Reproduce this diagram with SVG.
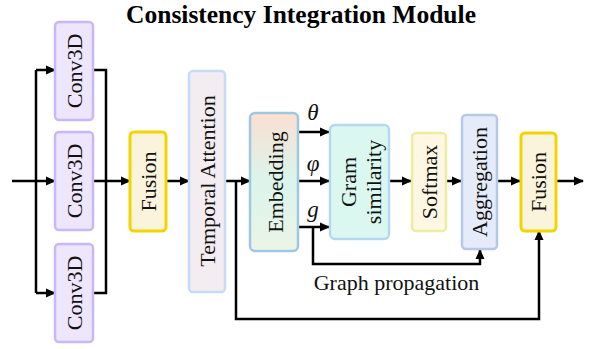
<svg xmlns="http://www.w3.org/2000/svg" width="596" height="349" viewBox="0 0 596 349">
  <style>
    .lbl { font-family: "Liberation Serif", "Times New Roman", serif; font-size: 22px; fill: #111; text-anchor: middle; dominant-baseline: central; }
    .math { font-family: "Liberation Serif", "Times New Roman", serif; font-size: 23px; font-style: italic; fill: #111; text-anchor: middle; }
    .wire { fill: none; stroke: #000; stroke-width: 2.5; stroke-linejoin: miter; }
    .arr { marker-end: url(#ah); }
    .conv { fill: #ede6fc; stroke: #c8b8f6; stroke-width: 2.5; }
    .fusion { fill: #faf4dc; stroke: #f2d500; stroke-width: 3; }
  </style>
  <defs>
    <marker id="ah" markerUnits="userSpaceOnUse" markerWidth="10" markerHeight="10" viewBox="0 0 10 10" refX="9" refY="5" orient="auto">
      <path d="M0,0.5 L10,5 L0,9.5 z" fill="#000"/>
    </marker>
    <linearGradient id="embG" x1="0" y1="0" x2="0" y2="1">
      <stop offset="0" stop-color="#fbdfd2"/>
      <stop offset="0.5" stop-color="#daf5ec"/>
      <stop offset="1" stop-color="#ecf4e6"/>
    </linearGradient>
  </defs>

  <text x="301" y="23" font-family="Liberation Serif, Times New Roman, serif" font-size="25.5" font-weight="bold" text-anchor="middle" fill="#000">Consistency Integration Module</text>

  <g id="connectors">
    <path class="wire" d="M12,181 L36,181"/>
    <path class="wire" d="M36,70 L36,293"/>
    <path class="wire arr" d="M36,70 L55,70"/>
    <path class="wire arr" d="M36,181 L55,181"/>
    <path class="wire arr" d="M36,293 L55,293"/>
    <path class="wire" d="M93,70 L106,70 L106,293 L93,293"/>
    <path class="wire arr" d="M93,181 L130,181"/>
    <path class="wire arr" d="M166,181 L189,181"/>
    <path class="wire arr" d="M225,181 L250,181"/>
    <path class="wire arr" d="M236,181 L236,319 L539,319 L539,231"/>
    <path class="wire arr" d="M298,132 L329,132"/>
    <path class="wire arr" d="M298,181 L329,181"/>
    <path class="wire arr" d="M298,227 L329,227"/>
    <path class="wire arr" d="M313,227 L313,264 L480,264 L480,250"/>
    <path class="wire arr" d="M389,181 L411,181"/>
    <path class="wire arr" d="M447,181 L461,181"/>
    <path class="wire arr" d="M497,181 L520,181"/>
    <path class="wire arr" d="M556,181 L583,181"/>
  </g>

  <g id="conv3d-top">
    <rect class="conv" x="55" y="22" width="38" height="98" rx="4"/>
    <text class="lbl" transform="translate(74,71) rotate(-90)">Conv3D</text>
  </g>
  <g id="conv3d-mid">
    <rect class="conv" x="55" y="132" width="38" height="98" rx="4"/>
    <text class="lbl" transform="translate(74,181) rotate(-90)">Conv3D</text>
  </g>
  <g id="conv3d-bot">
    <rect class="conv" x="55" y="244" width="38" height="98" rx="4"/>
    <text class="lbl" transform="translate(74,293) rotate(-90)">Conv3D</text>
  </g>
  <g id="fusion1">
    <rect class="fusion" x="130" y="132" width="36" height="99" rx="4"/>
    <text class="lbl" transform="translate(148,181.5) rotate(-90)">Fusion</text>
  </g>
  <g id="temporal-attention">
    <rect x="189" y="71" width="36" height="221" rx="4" fill="#f3ecf0" stroke="#c6dcf6" stroke-width="2.5"/>
    <text class="lbl" transform="translate(207,181) rotate(-90)">Temporal Attention</text>
  </g>
  <g id="embedding">
    <rect x="250" y="113" width="48" height="138" rx="5" fill="url(#embG)" stroke="#9ec8e0" stroke-width="2.5"/>
    <text class="lbl" transform="translate(275,182) rotate(-90)">Embedding</text>
  </g>
  <g id="labels-emb">
    <text class="math" x="313" y="120">θ</text>
    <text class="math" x="313" y="171">φ</text>
    <text class="math" x="313" y="217">g</text>
  </g>
  <g id="gram-similarity">
    <rect x="330" y="125" width="59" height="114" rx="5" fill="#daf8f0" stroke="#b8d7ee" stroke-width="2.5"/>
    <text class="lbl" transform="translate(348,182) rotate(-90)">Gram</text>
    <text class="lbl" transform="translate(373,182) rotate(-90)">similarity</text>
  </g>
  <g id="softmax">
    <rect x="412" y="133" width="34" height="98" rx="4" fill="#fdf7e4" stroke="#ededa0" stroke-width="2.5"/>
    <text class="lbl" transform="translate(429,182) rotate(-90)">Softmax</text>
  </g>
  <g id="aggregation">
    <rect x="462" y="115" width="35" height="134" rx="4" fill="#e6ebf9" stroke="#b6c8ea" stroke-width="2.5"/>
    <text class="lbl" transform="translate(479.5,182) rotate(-90)">Aggregation</text>
  </g>
  <g id="fusion2">
    <rect class="fusion" x="521" y="133" width="35" height="98" rx="4"/>
    <text class="lbl" transform="translate(538.5,182) rotate(-90)">Fusion</text>
  </g>
  <g id="graph-propagation-label">
    <text x="396.5" y="290" font-family="Liberation Serif, Times New Roman, serif" font-size="22" text-anchor="middle" fill="#111">Graph propagation</text>
  </g>
</svg>
